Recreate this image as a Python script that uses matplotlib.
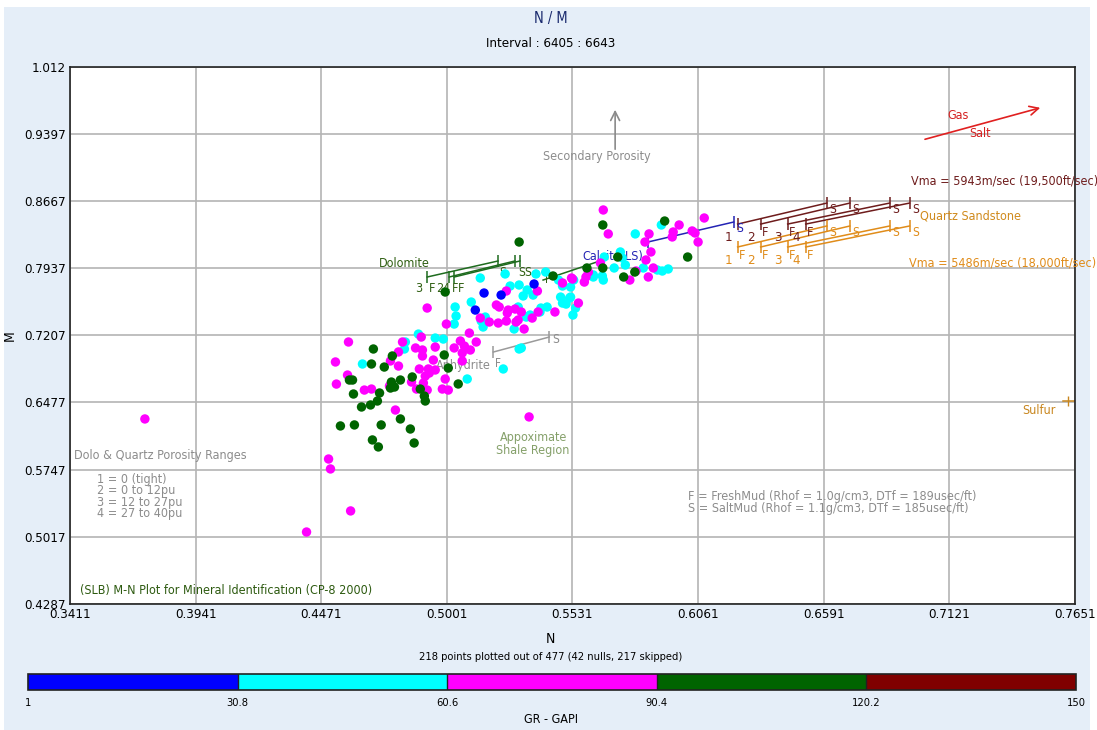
import numpy as np
import matplotlib
matplotlib.use("Agg")
import matplotlib.pyplot as plt
from matplotlib.colors import ListedColormap, BoundaryNorm

plt.rcParams["font.family"] = ["DejaVu Sans"]
plt.rcParams["font.stretch"] = "condensed"

# GR colour classes
gr_edges = [1, 30.8, 60.6, 90.4, 120.2, 150]
gr_colors = ["#0000ff", "#00ffff", "#ff00ff", "#006400", "#800000"]

# N / M values per GR class
n_blue = [0.5158, 0.5230, 0.5121, 0.5369]
m_blue = [0.7665, 0.7643, 0.7480, 0.7763]

n_cyan = [0.5036, 0.5032, 0.5104, 0.4881, 0.4952, 0.4986, 0.4826, 0.4822, 0.4645, 0.5087,
          0.5306, 0.5239, 0.5146, 0.5154, 0.5285, 0.5352, 0.5394, 0.5424, 0.5504, 0.5533,
          0.5142, 0.5247, 0.5163, 0.5268, 0.5306, 0.5340, 0.5323, 0.5302, 0.5336, 0.5365,
          0.5377, 0.5398, 0.5472, 0.5481, 0.5489, 0.5519, 0.5544, 0.5536, 0.5315, 0.5040,
          0.5418, 0.5796, 0.5906, 0.5665, 0.5733, 0.5741, 0.5707, 0.5754, 0.5657, 0.5619,
          0.5619, 0.5661, 0.5830, 0.5889, 0.5910, 0.5935, 0.5489, 0.5523, 0.5523]
m_cyan = [0.7513, 0.7328, 0.7567, 0.7219, 0.7176, 0.7165, 0.7133, 0.7057, 0.6894, 0.6731,
          0.7057, 0.6840, 0.7361, 0.7296, 0.7274, 0.7426, 0.7459, 0.7513, 0.7545, 0.7426,
          0.7828, 0.7872, 0.7404, 0.7741, 0.7752, 0.7698, 0.7633, 0.7513, 0.7404, 0.7643,
          0.7872, 0.7502, 0.7806, 0.7621, 0.7556, 0.7610, 0.7502, 0.7806, 0.7068, 0.7415,
          0.7893, 0.8307, 0.8404, 0.8056, 0.8111, 0.8046, 0.7937, 0.7969, 0.7850, 0.7861,
          0.7839, 0.7806, 0.7937, 0.7915, 0.7904, 0.7926, 0.7741, 0.7730, 0.7621]

n_magenta = [0.3727, 0.4409, 0.4502, 0.4510, 0.4595, 0.5348, 0.4918, 0.4586, 0.4531, 0.4535,
             0.4582, 0.4653, 0.4683, 0.4763, 0.4797, 0.4797, 0.4759, 0.4784, 0.4814, 0.4869,
             0.4898, 0.4898, 0.4885, 0.4852, 0.4873, 0.4902, 0.4918, 0.4923, 0.4927, 0.4910,
             0.4944, 0.4952, 0.4952, 0.4994, 0.4982, 0.5007, 0.4893, 0.4999, 0.5032, 0.5058,
             0.5075, 0.5096, 0.5100, 0.5066, 0.5066, 0.5125, 0.5142, 0.5180, 0.5218, 0.5222,
             0.5256, 0.5289, 0.5293, 0.5327, 0.5361, 0.5386, 0.5457, 0.5210, 0.5252, 0.5260,
             0.5252, 0.5302, 0.5315, 0.5383, 0.5489, 0.5527, 0.5556, 0.5581, 0.5598, 0.5661,
             0.5682, 0.5981, 0.6087, 0.5956, 0.5952, 0.6036, 0.6048, 0.6061, 0.5854, 0.5837,
             0.5862, 0.5841, 0.5799, 0.5773, 0.5851, 0.5872, 0.5588, 0.5531, 0.5649]
m_magenta = [0.6297, 0.5069, 0.5862, 0.5754, 0.5298, 0.6319, 0.7502, 0.7133, 0.6916, 0.6676,
             0.6774, 0.6611, 0.6622, 0.6927, 0.7025, 0.6872, 0.6655, 0.6394, 0.7133, 0.7068,
             0.7046, 0.6981, 0.6840, 0.6698, 0.6622, 0.6687, 0.6611, 0.6840, 0.6796, 0.6763,
             0.6937, 0.7078, 0.6829, 0.6731, 0.6622, 0.6611, 0.7187, 0.7328, 0.7068, 0.7144,
             0.7089, 0.7230, 0.7046, 0.7014, 0.6927, 0.7133, 0.7393, 0.7350, 0.7339, 0.7513,
             0.7448, 0.7491, 0.7350, 0.7274, 0.7393, 0.7459, 0.7459, 0.7535, 0.7687, 0.7480,
             0.7361, 0.7372, 0.7459, 0.7687, 0.7774, 0.7828, 0.7556, 0.7784, 0.7893, 0.8567,
             0.8307, 0.8404, 0.8480, 0.8328, 0.8274, 0.8339, 0.8317, 0.8219, 0.8307, 0.8219,
             0.8111, 0.8024, 0.7904, 0.7806, 0.7839, 0.7937, 0.7839, 0.7817, 0.7991]

n_green = [0.4691, 0.4683, 0.4737, 0.4771, 0.4603, 0.4590, 0.4607, 0.4641, 0.4679, 0.4708,
           0.4717, 0.4767, 0.4780, 0.4805, 0.4855, 0.4889, 0.4906, 0.4910, 0.4990, 0.5007,
           0.5049, 0.4552, 0.4611, 0.4724, 0.4805, 0.4847, 0.4687, 0.4712, 0.4863, 0.4763,
           0.5306, 0.4994, 0.5449, 0.5659, 0.5920, 0.5722, 0.5659, 0.5747, 0.5794, 0.6017,
           0.5592]
m_green = [0.7057, 0.6894, 0.6861, 0.6981, 0.6720, 0.6720, 0.6568, 0.6427, 0.6449, 0.6492,
           0.6579, 0.6698, 0.6644, 0.6720, 0.6753, 0.6622, 0.6546, 0.6492, 0.6992, 0.6850,
           0.6677, 0.6221, 0.6232, 0.6232, 0.6297, 0.6188, 0.6069, 0.5993, 0.6036, 0.6633,
           0.8219, 0.7676, 0.7850, 0.8404, 0.8447, 0.8056, 0.7937, 0.7839, 0.7893, 0.8056,
           0.7937]

# axis ticks
x_ticks = [0.3411, 0.3941, 0.4471, 0.5001, 0.5531, 0.6061, 0.6591, 0.7121, 0.7651]
y_ticks = [0.4287, 0.5017, 0.5747, 0.6477, 0.7207, 0.7937, 0.8667, 0.9397, 1.012]

# overlay lines (start N, start M, end N, end M)
dolo_lines = [(0.4918, 0.7839, 0.5217, 0.8013),
              (0.5011, 0.7839, 0.5288, 0.8013),
              (0.5032, 0.7839, 0.5309, 0.8013)]
dolo_calcite = (0.5407, 0.7806, 0.5659, 0.8024)
calcite_line = (0.5849, 0.8219, 0.6211, 0.8436)
ss_start_n = [0.6228, 0.6325, 0.6439, 0.6515]
ss_end_n = [0.6604, 0.6701, 0.6869, 0.6953]
ss_fast_m = (0.8414, 0.8642)
ss_slow_m = (0.8165, 0.8393)
anhydrite_line = (0.5197, 0.7024, 0.5433, 0.7187)

bg = "#e5eef8"
fig = plt.figure(figsize=(10.97, 7.30), dpi=100, facecolor="white")
fig.patches.append(plt.Rectangle((0.004, 0.0), 0.99, 0.99, transform=fig.transFigure,
                                 facecolor=bg, edgecolor="none", zorder=-10))
ax = fig.add_axes([0.0638, 0.1726, 0.9161, 0.7356])
ax.set_facecolor("white")

ax.set_xlim(x_ticks[0], x_ticks[-1])
ax.set_ylim(y_ticks[0], y_ticks[-1])
ax.set_xticks(x_ticks)
ax.set_yticks(y_ticks)
ax.set_xticklabels([f"{v:.4f}" for v in x_ticks])
ax.set_yticklabels(["1.012" if v > 1 else f"{v:.4f}" for v in y_ticks])
ax.tick_params(length=0, labelsize=9.5, pad=3)
ax.grid(True, color="#b4b4b4", lw=1.2)
ax.set_axisbelow(True)
for s in ax.spines.values():
    s.set_color("#222222")
    s.set_linewidth(1.2)

ax.set_xlabel("N", fontsize=10)
ax.xaxis.set_label_coords(0.478, -0.052)
ax.set_ylabel("M", fontsize=10)
ax.yaxis.set_label_coords(-0.053, 0.5)
fig.text(0.502, 0.975, "N / M", ha="center", va="center", fontsize=10.5, color="#1a2a6e")
fig.text(0.502, 0.940, "Interval : 6405 : 6643", ha="center", va="center", fontsize=9.5)
fig.text(0.502, 0.100, "218 points plotted out of 477 (42 nulls, 217 skipped)",
         ha="center", va="center", fontsize=8)

green_txt = "#2f5f12"
maroon = "#6e1c1c"
orange = "#e08c1a"
grey = "#8c8c8c"
fs = 9


def seg(line, color, lw=1.1, ticks=True):
    x0, y0, x1, y1 = line
    ax.plot([x0, x1], [y0, y1], color=color, lw=lw, zorder=2)
    if ticks:
        ax.plot([x0, x1], [y0, y1], ls="none", marker="|", ms=9, mew=1.1, color=color, zorder=2)


# dolomite
for ln in dolo_lines:
    seg(ln, "#1e6b1e")
seg(dolo_calcite, "#1e6b1e", ticks=False)
ax.text(0.4822, 0.7991, "Dolomite", color=green_txt, fontsize=fs, ha="center", va="center")
for x, t in [(0.4883, "3"), (0.4938, "F"), (0.4972, "2"), (0.4997, "4"), (0.5036, "F"), (0.5061, "F")]:
    ax.text(x, 0.7711, t, color=green_txt, fontsize=fs, ha="center", va="center")
for x in [0.5236, 0.5316, 0.5341]:
    ax.text(x, 0.7893, "S", color=green_txt, fontsize=8.5, ha="center", va="center")
ax.text(0.5429, 0.7817, "F", color=green_txt, fontsize=8.5, ha="center", va="center")

# calcite
seg(calcite_line, "#2323b4")
ax.text(0.5702, 0.8067, "Calcite(LS)", color="#2323b4", fontsize=fs, ha="center", va="center")
ax.text(0.6237, 0.8370, "S", color="#2323b4", fontsize=8.5, ha="center", va="center")

# quartz sandstone, two matrix velocities
for m_pair, col in [(ss_fast_m, maroon), (ss_slow_m, orange)]:
    for x0, x1 in zip(ss_start_n, ss_end_n):
        seg((x0, m_pair[0], x1, m_pair[1]), col)
        ax.text(x1 + 0.0025, m_pair[1] - 0.0075, "S", color=col, fontsize=8.5, ha="center", va="center")
    for x0, t in zip(ss_start_n, ["1", "2", "3", "4"]):
        ax.text(x0 - 0.0040, m_pair[0] - 0.0150, t, color=col, fontsize=9.5, ha="center", va="center")
        if t != "1" or col == orange:
            ax.text(x0 + 0.0020, m_pair[0] - 0.0095, "F", color=col, fontsize=fs, ha="center", va="center")
ax.text(0.7354, 0.8882, "Vma = 5943m/sec (19,500ft/sec)", color=maroon, fontsize=fs,
        ha="center", va="center")
ax.text(0.7346, 0.7991, "Vma = 5486m/sec (18,000ft/sec)", color=orange, fontsize=fs,
        ha="center", va="center")
ax.text(0.6997, 0.8500, "Quartz Sandstone", color="#d08a1c", fontsize=fs, ha="left", va="center")

# anhydrite
seg(anhydrite_line, "#9a9a9a")
ax.text(0.5071, 0.6883, "Anhydrite", color=grey, fontsize=fs, ha="center", va="center", zorder=1)
ax.text(0.5218, 0.6904, "F", color=grey, fontsize=8.5, ha="center", va="center")
ax.text(0.5462, 0.7155, "S", color=grey, fontsize=8.5, ha="center", va="center")

# arrows
ax.annotate("", xy=(0.5711, 0.9686), xytext=(0.5711, 0.9197),
            arrowprops=dict(arrowstyle="->", color="#8a8a8a", lw=1.2, mutation_scale=16))
ax.text(0.5635, 0.9143, "Secondary Porosity", color=grey, fontsize=fs, ha="center", va="center")
ax.annotate("", xy=(0.7516, 0.9685), xytext=(0.7007, 0.9327),
            arrowprops=dict(arrowstyle="->", color="#e02020", lw=1.2, mutation_scale=16))
ax.text(0.7159, 0.9598, "Gas", color="#d42020", fontsize=fs, ha="center", va="center")
ax.text(0.7252, 0.9403, "Salt", color="#d42020", fontsize=fs, ha="center", va="center")

# sulfur
ax.plot([0.7600, 0.7651], [0.6492, 0.6492], color="#c8861e", lw=1.1)
ax.plot([0.7621], [0.6492], marker="|", ms=7, color="#c8861e")
ax.text(0.7499, 0.6394, "Sulfur", color="#c8861e", fontsize=fs, ha="center", va="center")

ax.text(0.5365, 0.6025, "Appoximate\nShale Region", color="#85a06a", fontsize=fs,
        ha="center", va="center", linespacing=0.95)

ax.text(0.004, 0.276, "Dolo & Quartz Porosity Ranges", transform=ax.transAxes, color=grey,
        fontsize=fs, ha="left", va="center")
ax.text(0.027, 0.200, "1 = 0 (tight)\n2 = 0 to 12pu\n3 = 12 to 27pu\n4 = 27 to 40pu",
        transform=ax.transAxes, color=grey, fontsize=fs, ha="left", va="center",
        linespacing=0.85)
ax.text(0.6017, 0.5385, "F = FreshMud (Rhof = 1.0g/cm3, DTf = 189usec/ft)\n"
        "S = SaltMud (Rhof = 1.1g/cm3, DTf = 185usec/ft)", color=grey, fontsize=fs,
        ha="left", va="center", linespacing=0.9)
ax.text(0.010, 0.026, "(SLB) M-N Plot for Mineral Identification (CP-8 2000)",
        transform=ax.transAxes, color="#2d5a10", fontsize=fs, ha="left", va="center")

# data points
for n, m, c in [(n_cyan, m_cyan, gr_colors[1]), (n_magenta, m_magenta, gr_colors[2]),
                (n_green, m_green, gr_colors[3]), (n_blue, m_blue, gr_colors[0])]:
    ax.scatter(n, m, s=46, color=c, edgecolors="none", zorder=3)

# GR colour bar
cax = fig.add_axes([0.0255, 0.0548, 0.9553, 0.0219])
cmap = ListedColormap(gr_colors)
norm = BoundaryNorm(gr_edges, cmap.N)
cb = fig.colorbar(plt.cm.ScalarMappable(norm=norm, cmap=cmap), cax=cax,
                  orientation="horizontal", ticks=gr_edges)
cb.ax.set_xticklabels(["1", "30.8", "60.6", "90.4", "120.2", "150"])
cb.ax.tick_params(length=0, labelsize=8, pad=6)
cb.outline.set_linewidth(1.2)
cb.outline.set_edgecolor("#222222")
for e in gr_edges[1:-1]:
    cax.axvline(e, color="#222222", lw=1)
fig.text(0.502, 0.014, "GR - GAPI", ha="center", va="center", fontsize=9)

fig.savefig("out.png", dpi=100, facecolor=fig.get_facecolor())
